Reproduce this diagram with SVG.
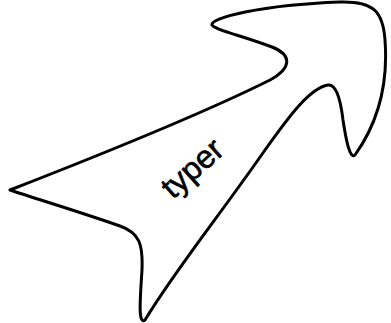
<svg xmlns="http://www.w3.org/2000/svg" width="391" height="323" viewBox="0 0 391 323">
<style>
.shape{fill:#fff;stroke:#000;stroke-width:3;stroke-linejoin:round}
.lbl{font-family:"Liberation Sans",Arial,sans-serif;font-size:32px;fill:#000;stroke:#000;stroke-width:0.6}
</style>
<rect width="391" height="323" fill="#fff"/>
<g id="arrow">
<path class="shape" d="M 10 190 C 100 155, 200 115, 270 80 C 292 68, 292 55, 272 47 C 240 35, 215 30, 212 25 C 210 18, 260 5, 340 2 C 372 1, 383 10, 385 40 C 388 80, 380 120, 355 155 C 350 160, 346 140, 343 120 C 340 95, 335 84, 328 85 C 310 88, 290 115, 265 150 C 220 215, 175 270, 145 320 C 138 325, 140 300, 142 270 C 143 245, 140 233, 120 226 C 80 212, 40 200, 10 190 Z"/>
<text class="lbl" x="0" y="0" text-anchor="middle" dominant-baseline="central" transform="translate(192 168) rotate(-42)">typer</text>
</g>
<g id="connectors"/>
</svg>
